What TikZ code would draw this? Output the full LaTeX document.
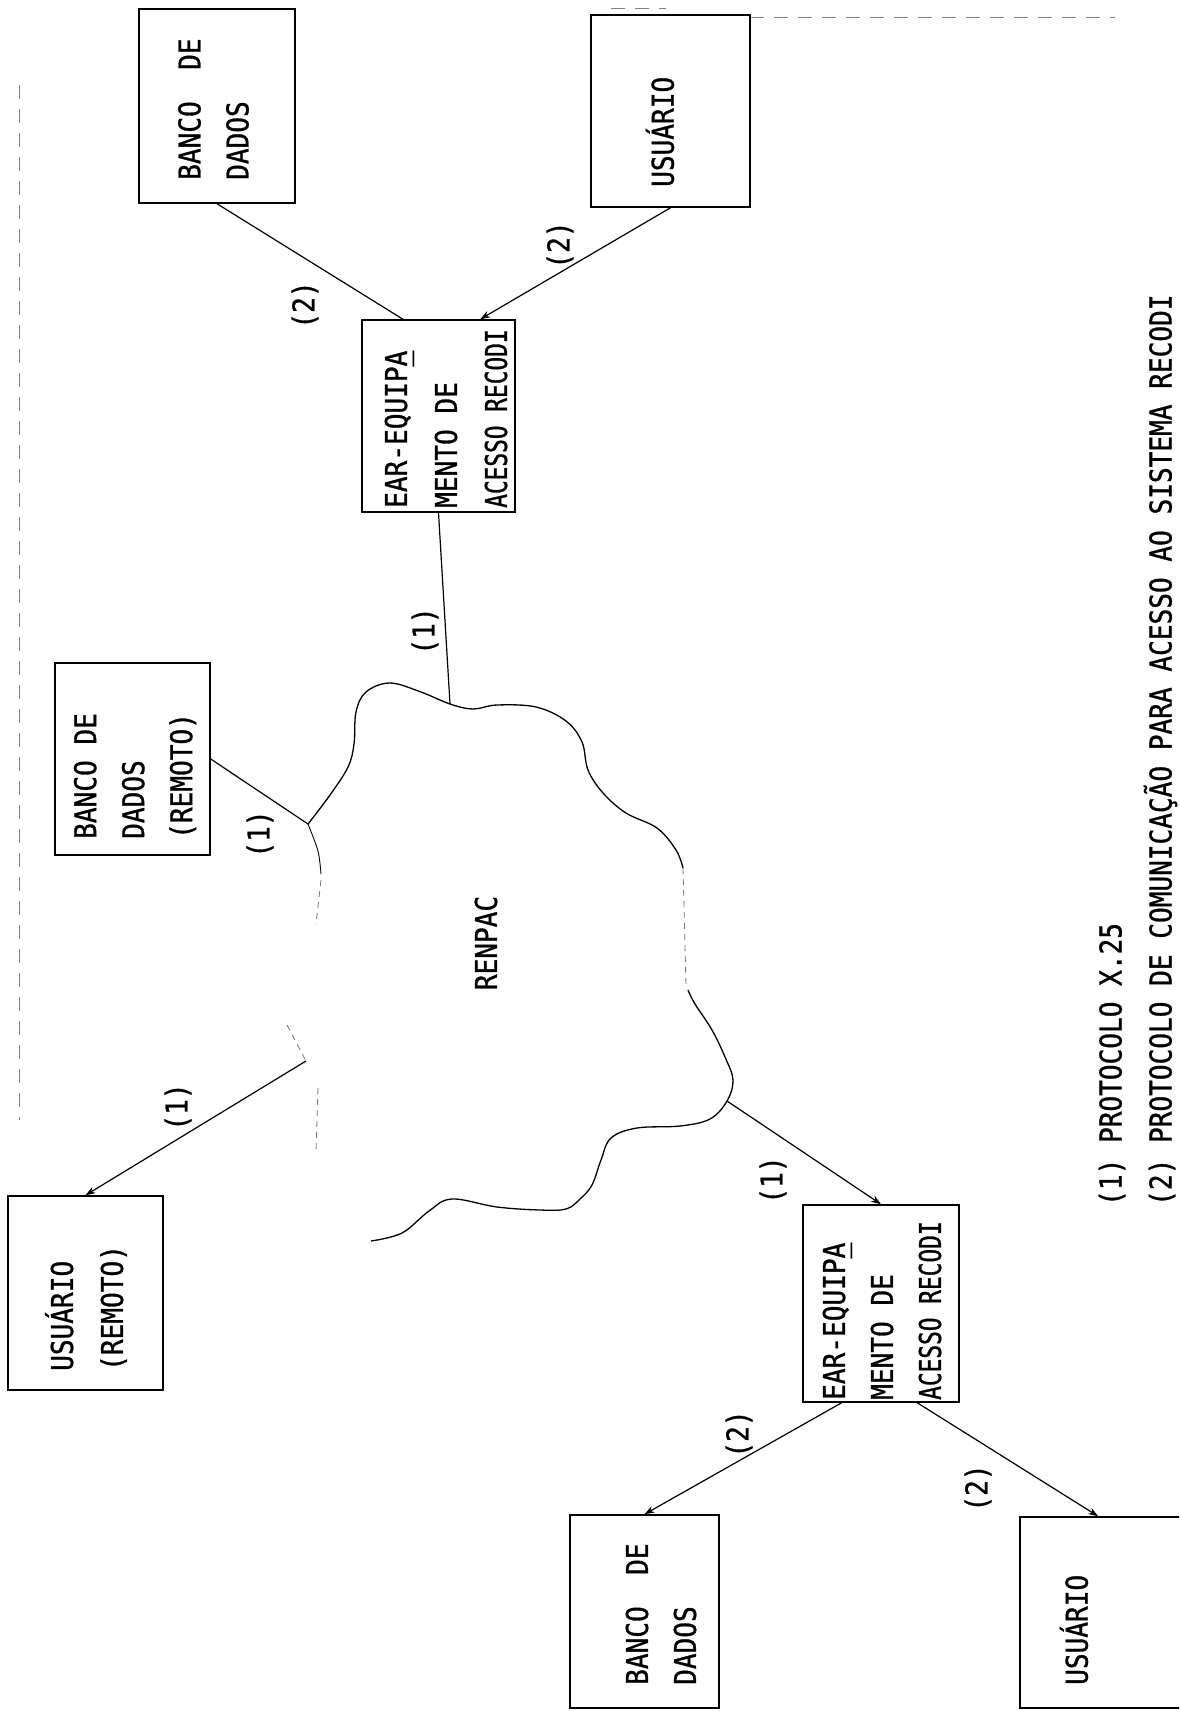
\documentclass[tikz,border=0pt]{standalone}
\usepackage{fontspec}
\newfontfamily\tw[FakeStretch=0.87,FakeBold=1]{DejaVu Sans Mono}
\usetikzlibrary{calc,arrows.meta}
\tikzset{
  box/.style={draw, line width=1.5pt, inner sep=0pt},
  txt/.style={rotate=90, anchor=west, inner sep=0pt, align=left, font=\tw\fontsize{30}{48}\selectfont},
  lbl/.style={rotate=90, inner sep=0pt, font=\tw\fontsize{30}{48}\selectfont},
  conn/.style={line width=1.2pt},
  arr/.style={-{Stealth[length=10pt,width=7pt]}},
  cloudline/.style={line width=1.3pt, line join=round},
  faint/.style={line width=0.8pt, black!55, dash pattern=on 6pt off 5pt},
  border/.style={line width=1pt, black!50, dash pattern=on 14pt off 10pt}
}
\begin{document}
\begin{tikzpicture}[x=1pt,y=-1pt]
\useasboundingbox (0,0) rectangle (1179,1711);
\clip (0,0) rectangle (1179,1711);

% page border fragments
\draw[border] (611,8) -- (666,8);
\draw[border] (750,17) -- (1115,17);
\draw[border] (19,85) -- (19,1120);

% boxes
\node[box, minimum width=156pt, minimum height=194pt] (b1) at (217,106) {};
\node[box, minimum width=159pt, minimum height=192pt] (u1) at (670.5,111) {};
\node[box, minimum width=153pt, minimum height=192pt] (e1) at (438.5,416) {};
\node[box, minimum width=155pt, minimum height=192pt] (br) at (132.5,759) {};
\node[box, minimum width=155pt, minimum height=194pt] (ur) at (85.5,1293) {};
\node[box, minimum width=156pt, minimum height=197pt] (e2) at (881,1303.5) {};
\node[box, minimum width=149pt, minimum height=193pt] (b2) at (644.5,1611.5) {};
\node[box, minimum width=170pt, minimum height=191pt] (u2) at (1105,1612.5) {};

% box texts
\node[txt] (tb1) at (213.5,180) {BANCO~~DE\\DADOS};
\node[txt] (tu1) at (660,187) {USUÁRIO};
\node[txt, font=\tw\fontsize{30}{50}\selectfont] (te1) at (446,508) {EAR-EQUIP\rlap{\_}A\\MENTO DE\\{\addfontfeature{FakeStretch=0.76}ACESSO RECODI}};
\node[txt] (tbr) at (135,839) {BANCO DE\\DADOS\\(REMOTO)};
\node[txt, font=\tw\fontsize{30}{50}\selectfont] (tur) at (86,1371) {USUÁRIO\\(REMOTO)};
\node[txt] (te2) at (882,1400) {EAR-EQUIP\rlap{\_}A\\MENTO DE\\{\addfontfeature{FakeStretch=0.76}ACESSO RECODI}};
\node[txt] (tb2) at (661,1685) {BANCO~~DE\\DADOS};
\node[txt] (tu2) at (1074,1685) {USUÁRIO};
\node[txt, font=\tw\fontsize{30}{50}\selectfont] (leg) at (1138,1206) {(1) PROTOCOLO X.25\\(2) PROTOCOLO DE COMUNICAÇÃO PARA ACESSO AO SISTEMA RECODI};

% RENPAC cloud
\coordinate (jA) at (308,824);
\coordinate (jT) at (450,704);
\coordinate (jR) at (727,1101);
\coordinate (jB) at (306,1061);
\draw[cloudline] plot[smooth, tension=0.6] coordinates {
 (308,824) (330,795) (348,767) (354,744) (356,712) (366,692) (390,683)
 (421,692) (450,704) (473,709) (497,705) (536,707) (566,721) (582,742)
 (588,770) (603,793) (626,813) (657,828) (676,850) (683,868)};
\draw[faint] (683,868) -- (686,985);
\draw[cloudline] plot[smooth, tension=0.6] coordinates {
 (688,990) (695,1004) (712,1030) (725,1057) (733,1080) (727,1101) (710,1119)
 (680,1126) (637,1128) (611,1138) (601,1160) (592,1185) (580,1199)
 (566,1209) (540,1210) (497,1207) (452,1199) (429,1211) (402,1233) (371,1241)};
\draw[cloudline, line width=0.9pt] plot[smooth] coordinates {(308,824) (318,851) (321,874)};
\draw[faint] (321,880) -- (316,924);
\draw[faint] (287,1025) -- (306,1061);
\draw[faint] (318,1088) -- (316,1153);
\node[lbl] (renpac) at (486,943) {RENPAC};

% connectors
\draw[conn] (b1.south) -- ($(e1.north west)!0.27!(e1.north east)$);
\draw[conn, arr] (u1.south) -- ($(e1.north west)!0.77!(e1.north east)$);
\draw[conn] (e1.south) -- (jT);
\draw[conn] (br.east) -- (jA);
\draw[conn, arr] (jB) -- (ur.north);
\draw[conn, arr] (jR) -- (e2.north);
\draw[conn, arr] ($(e2.south west)!0.25!(e2.south east)$) -- (b2.north);
\draw[conn, arr] ($(e2.south west)!0.73!(e2.south east)$) -- ($(u2.north west)!0.46!(u2.north east)$);

% connector labels
\node[lbl] (l1) at (305,305) {(2)};
\node[lbl] (l2) at (560,245) {(2)};
\node[lbl] (l3) at (260,834) {(1)};
\node[lbl] (l4) at (425,631) {(1)};
\node[lbl] (l5) at (178,1107) {(1)};
\node[lbl] (l6) at (773,1180) {(1)};
\node[lbl] (l7) at (739,1434) {(2)};
\node[lbl] (l8) at (978,1488) {(2)};
\end{tikzpicture}
\end{document}
